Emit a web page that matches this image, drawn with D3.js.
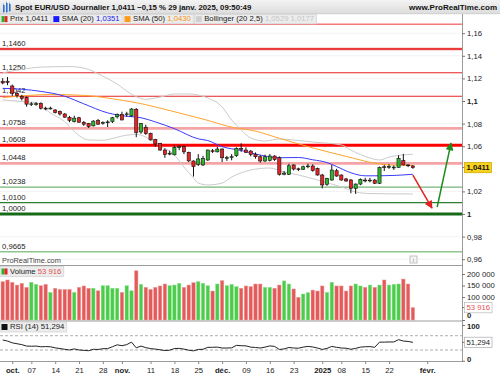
<!DOCTYPE html>
<html>
<head>
<meta charset="utf-8">
<title>Spot EUR/USD Journalier</title>
<script src="https://cdn.jsdelivr.net/npm/d3@7"></script>
<style>
  body { margin: 0; background: #fff; }
  svg { display: block; font-family: "Liberation Sans", Arial, sans-serif; }
</style>
</head>
<body>
<div id="chart"></div>
<script>
// trading days on the chart (25/12 and 01/01 are not traded)
var dates = [
    "2024-09-27", "2024-09-30",
    "2024-10-01", "2024-10-02", "2024-10-03", "2024-10-04", "2024-10-07", "2024-10-08", "2024-10-09", "2024-10-10", "2024-10-11",
    "2024-10-14", "2024-10-15", "2024-10-16", "2024-10-17", "2024-10-18", "2024-10-21", "2024-10-22", "2024-10-23", "2024-10-24", "2024-10-25",
    "2024-10-28", "2024-10-29", "2024-10-30", "2024-10-31",
    "2024-11-01", "2024-11-04", "2024-11-05", "2024-11-06", "2024-11-07", "2024-11-08", "2024-11-11", "2024-11-12", "2024-11-13", "2024-11-14", "2024-11-15",
    "2024-11-18", "2024-11-19", "2024-11-20", "2024-11-21", "2024-11-22", "2024-11-25", "2024-11-26", "2024-11-27", "2024-11-28", "2024-11-29",
    "2024-12-02", "2024-12-03", "2024-12-04", "2024-12-05", "2024-12-06", "2024-12-09", "2024-12-10", "2024-12-11", "2024-12-12", "2024-12-13",
    "2024-12-16", "2024-12-17", "2024-12-18", "2024-12-19", "2024-12-20", "2024-12-23", "2024-12-24", "2024-12-26", "2024-12-27", "2024-12-30", "2024-12-31",
    "2025-01-02", "2025-01-03", "2025-01-06", "2025-01-07", "2025-01-08", "2025-01-09", "2025-01-10", "2025-01-13", "2025-01-14", "2025-01-15",
    "2025-01-16", "2025-01-17", "2025-01-20", "2025-01-21", "2025-01-22", "2025-01-23", "2025-01-24", "2025-01-27", "2025-01-28", "2025-01-29"
];
// empty days on the right of the chart
var futureDates = ["2025-01-30", "2025-01-31", "2025-02-03", "2025-02-04", "2025-02-05", "2025-02-06", "2025-02-07", "2025-02-10", "2025-02-11", "2025-02-12"];

var opens = [1.1172, 1.1175, 1.1133, 1.1068, 1.1040, 1.1033, 1.0970, 1.0972, 1.0980, 1.0936,
    1.0934, 1.0920, 1.0908, 1.0885, 1.0855, 1.0818, 1.0852, 1.0812, 1.0802, 1.0780,
    1.0826, 1.0802, 1.0810, 1.0817, 1.0860, 1.0882, 1.0880, 1.0868, 1.0927, 1.0726,
    1.0768, 1.0714, 1.0660, 1.0625, 1.0566, 1.0530, 1.0524, 1.0592, 1.0596, 1.0546,
    1.0469, 1.0440, 1.0434, 1.0478, 1.0560, 1.0550, 1.0575, 1.0496, 1.0503, 1.0516,
    1.0580, 1.0566, 1.0557, 1.0528, 1.0507, 1.0469, 1.0475, 1.0513, 1.0498, 1.0352,
    1.0351, 1.0434, 1.0400, 1.0396, 1.0420, 1.0425, 1.0404, 1.0345, 1.0263, 1.0301,
    1.0383, 1.0345, 1.0310, 1.0301, 1.0227, 1.0265, 1.0300, 1.0294, 1.0300, 1.0272,
    1.0418, 1.0416, 1.0410, 1.0413, 1.0472, 1.0434, 1.0425];
var highs = [1.1202, 1.1212, 1.1145, 1.1083, 1.1055, 1.1040, 1.0990, 1.0990, 1.0988, 1.0950,
    1.0950, 1.0928, 1.0915, 1.0893, 1.0868, 1.0870, 1.0860, 1.0822, 1.0806, 1.0830,
    1.0840, 1.0820, 1.0830, 1.0860, 1.0890, 1.0905, 1.0905, 1.0937, 1.0937, 1.0806,
    1.0790, 1.0720, 1.0665, 1.0630, 1.0580, 1.0560, 1.0608, 1.0610, 1.0610, 1.0552,
    1.0475, 1.0530, 1.0515, 1.0570, 1.0575, 1.0595, 1.0580, 1.0515, 1.0530, 1.0590,
    1.0626, 1.0590, 1.0565, 1.0545, 1.0520, 1.0525, 1.0530, 1.0520, 1.0510, 1.0380,
    1.0445, 1.0440, 1.0410, 1.0428, 1.0445, 1.0440, 1.0410, 1.0355, 1.0320, 1.0434,
    1.0400, 1.0350, 1.0320, 1.0310, 1.0270, 1.0315, 1.0320, 1.0320, 1.0310, 1.0420,
    1.0435, 1.0440, 1.0430, 1.0520, 1.0532, 1.0440, 1.0432];
var lows = [1.1148, 1.1140, 1.1045, 1.1030, 1.1005, 1.0950, 1.0955, 1.0958, 1.0925, 1.0918,
    1.0925, 1.0890, 1.0872, 1.0852, 1.0812, 1.0810, 1.0808, 1.0780, 1.0762, 1.0775,
    1.0790, 1.0790, 1.0770, 1.0805, 1.0845, 1.0830, 1.0860, 1.0860, 1.0680, 1.0710,
    1.0700, 1.0650, 1.0595, 1.0560, 1.0497, 1.0520, 1.0520, 1.0565, 1.0530, 1.0460,
    1.0332, 1.0425, 1.0425, 1.0470, 1.0540, 1.0545, 1.0460, 1.0470, 1.0475, 1.0505,
    1.0550, 1.0540, 1.0510, 1.0490, 1.0455, 1.0460, 1.0465, 1.0470, 1.0340, 1.0343,
    1.0345, 1.0385, 1.0380, 1.0390, 1.0405, 1.0375, 1.0340, 1.0227, 1.0250, 1.0295,
    1.0330, 1.0295, 1.0285, 1.0183, 1.0178, 1.0255, 1.0280, 1.0280, 1.0265, 1.0265,
    1.0380, 1.0400, 1.0390, 1.0410, 1.0430, 1.0415, 1.0400];
var closes = [1.1160, 1.1165, 1.1068, 1.1047, 1.1022, 1.0972, 1.0975, 1.0976, 1.0936, 1.0934,
    1.0937, 1.0898, 1.0885, 1.0857, 1.0828, 1.0848, 1.0812, 1.0795, 1.0774, 1.0822,
    1.0795, 1.0810, 1.0815, 1.0852, 1.0882, 1.0832, 1.0886, 1.0929, 1.0720, 1.0800,
    1.0712, 1.0656, 1.0620, 1.0566, 1.0528, 1.0538, 1.0590, 1.0596, 1.0550, 1.0470,
    1.0419, 1.0487, 1.0493, 1.0566, 1.0556, 1.0575, 1.0498, 1.0499, 1.0507, 1.0581,
    1.0574, 1.0546, 1.0528, 1.0507, 1.0469, 1.0507, 1.0513, 1.0482, 1.0350, 1.0362,
    1.0427, 1.0398, 1.0396, 1.0418, 1.0425, 1.0384, 1.0345, 1.0257, 1.0316, 1.0389,
    1.0336, 1.0301, 1.0292, 1.0227, 1.0265, 1.0307, 1.0296, 1.0300, 1.0272, 1.0413,
    1.0414, 1.0420, 1.0415, 1.0493, 1.0434, 1.0430, 1.0411];
var volumes = [166500, 174000, 164000, 152000, 159500, 142000, 164000, 155000, 149000, 155000,
    120000, 138000, 133000, 133000, 133000, 120000, 142000, 148000, 138000, 138000,
    127000, 149000, 149000, 138000, 138000, 120000, 149000, 127000, 214000, 155000,
    142000, 133000, 142000, 148000, 156500, 149000, 152000, 159500, 142000, 152000,
    162000, 166500, 159500, 149000, 126000, 156500, 171000, 149000, 155000, 145000,
    138000, 148000, 145000, 156500, 156500, 142000, 142000, 138000, 152000, 170000,
    156500, 135000, 98500, 113000, 119000, 130000, 126000, 148000, 120000, 164000,
    148000, 148000, 126000, 148000, 156500, 148000, 142000, 152000, 142000, 152000,
    174000, 152000, 155000, 156500, 178000, 156500, 53916];
var rsi = [58, 55, 50, 47.5, 45, 41, 40.5, 41, 39, 39.5,
    39, 36, 34, 32, 30, 33, 30, 29, 28, 32,
    31.5, 33.5, 34, 39, 44.5, 42, 45, 52, 36, 41,
    36.5, 34, 32.5, 30.5, 28.5, 29.5, 34, 34.5, 32.5, 29.5,
    27.5, 31.5, 32, 37.5, 37.5, 38, 35.5, 35.5, 36, 43,
    42, 41.5, 38, 37, 35.5, 38, 41.5, 40, 31.5, 33,
    37, 35.5, 35, 38, 40, 38.5, 35.5, 31.5, 34.5, 40,
    37.5, 35.5, 35, 32, 34.5, 38, 39, 39.5, 37.5, 52,
    52, 52.5, 52.5, 59, 55, 54, 51.294];

// indicators: [day index, value]
var sma20 = [[0, 1.1112], [4, 1.1104], [8, 1.1085], [13, 1.1042], [17, 1.0975], [22, 1.0895], [26, 1.0865], [29, 1.0852],
    [32, 1.0815], [36, 1.0755], [41, 1.0665], [43, 1.0650], [46, 1.0596], [50, 1.0562], [53, 1.0531], [58, 1.0498],
    [62, 1.0500], [65, 1.0480], [68, 1.0455], [70, 1.0420], [73, 1.0365], [76, 1.0338], [79, 1.0338], [86, 1.0351]];
var sma50 = [[0, 1.1030], [4, 1.1045], [10, 1.1058], [17, 1.1050], [23, 1.1020], [28, 1.0985], [36, 1.0905], [42, 1.0840],
    [49, 1.0760], [52, 1.0743], [58, 1.0670], [65, 1.0585], [72, 1.0510], [78, 1.0450], [81, 1.0434], [86, 1.0430]];
var bbUpper = [[0, 1.1250], [4, 1.1280], [8, 1.1300], [14, 1.1305], [18, 1.1280], [20, 1.1240], [24, 1.1150], [27, 1.1060],
    [30, 1.1015], [33, 1.1035], [36, 1.1062], [39, 1.1062], [43, 1.1027], [46, 1.0947], [48, 1.0832], [50, 1.0743],
    [52, 1.0673], [55, 1.0646], [58, 1.0664], [61, 1.0655], [65, 1.0637], [71, 1.0611], [73, 1.0566], [77, 1.0496],
    [79, 1.0478], [81, 1.0504], [86, 1.0529]];
var bbLower = [[0, 1.1010], [4, 1.0995], [7, 1.0985], [10, 1.0894], [13, 1.0817], [15, 1.0730], [18, 1.0655], [21, 1.0652],
    [23, 1.0668], [25, 1.0690], [28, 1.0705], [30, 1.0681], [33, 1.0602], [36, 1.0522], [38, 1.0416], [40, 1.0319],
    [41, 1.0274], [43, 1.0257], [46, 1.0274], [48, 1.0327], [52, 1.0389], [56, 1.0407], [59, 1.0372], [62, 1.0345],
    [66, 1.0301], [71, 1.0239], [74, 1.0195], [77, 1.0181], [86, 1.0177]];

// horizontal levels drawn on the chart
var levels = [1.1680, 1.1460, 1.1250, 1.1042, 1.0758, 1.0608, 1.0448, 1.0238, 1.0100, 1.0000, 0.9665];

// drawn arrows: [day index, price] start and end
var arrowDown = [[86, 1.0345], [90, 1.0052]];
var arrowUp = [[91.1, 1.0062], [94, 1.0628]];

// axis ticks
var priceTicks = [0.96, 0.98, 1, 1.02, 1.06, 1.08, 1.1, 1.12, 1.14, 1.16];
var volumeTicks = [0, 100000, 150000, 200000];
var rsiTicks = [0, 100];
var rsiBands = [30, 70];
var xTickDates = ["2024-10-01", "2024-10-07", "2024-10-14", "2024-10-21", "2024-10-28", "2024-11-01", "2024-11-11", "2024-11-18",
    "2024-11-25", "2024-12-02", "2024-12-09", "2024-12-16", "2024-12-23", "2025-01-02", "2025-01-08", "2025-01-15", "2025-01-22", "2025-02-03"];
var xTickLabels = ["oct.", "07", "14", "21", "28", "nov.", "11", "18", "25", "déc.", "09", "16", "23", "2025", "08", "15", "22", "févr."];

var headerTitle = "Spot EUR/USD Journalier 1,0411 \u22120,15 % 29 janv. 2025, 09:50:49";
var headerSite = "www.ProRealTime.com";


// ---------------------------------------------------------------------------
var width = 500, height = 375, plotRight = 462;
var UP = "#2db52d", DOWN = "#e42424";

var fr = d3.formatLocale({decimal: ",", thousands: " ", grouping: [3], currency: ["", ""]});
var fmt4 = fr.format(".4f"), fmt3 = fr.format(".3f"), fmtTick = fr.format(".2~f"), fmtVol = fr.format(",");

var allDates = dates.concat(futureDates);

var x = d3.scaleLinear().domain([-0.57, 96.3]).range([0, plotRight]);
var yPrice = d3.scaleLinear().domain([0.96, 1.16]).range([259.2, 33.2]);
var yVol = d3.scaleLinear().domain([0, 200000]).range([320, 274]);
var yRsi = d3.scaleLinear().domain([0, 100]).range([360.7, 325]);

var candles = dates.map(function (d, i) {
    return {i: i, date: d, open: opens[i], high: highs[i], low: lows[i], close: closes[i], volume: volumes[i], rsi: rsi[i]};
});
var last = candles[candles.length - 1];

var svg = d3.select("#chart").append("svg")
    .attr("width", width)
    .attr("height", height);

var defs = svg.append("defs");
defs.append("clipPath").attr("id", "clipPrice")
    .append("rect").attr("x", 0).attr("y", 14).attr("width", plotRight).attr("height", 251);
var grad = defs.append("linearGradient").attr("id", "hdr").attr("x1", 0).attr("y1", 0).attr("x2", 0).attr("y2", 1);
grad.append("stop").attr("offset", "0%").attr("stop-color", "#f3f3f3");
grad.append("stop").attr("offset", "100%").attr("stop-color", "#dcdcdc");

function arrowMarker(id, color) {
    defs.append("marker").attr("id", id)
        .attr("viewBox", "0 0 10 10").attr("refX", 9).attr("refY", 5)
        .attr("markerWidth", 9).attr("markerHeight", 8)
        .attr("markerUnits", "userSpaceOnUse").attr("orient", "auto")
        .append("path").attr("d", "M0,0L10,5L0,10z").attr("fill", color);
}
arrowMarker("arrRed", "#e32020");
arrowMarker("arrGreen", "#1e8c1e");

svg.append("rect").attr("width", width).attr("height", height).attr("fill", "#fff");

// ---- price panel ----
var price = svg.append("g").attr("clip-path", "url(#clipPrice)");

price.selectAll("line.grid")
    .data(priceTicks)
    .enter().append("line")
    .attr("x1", 0).attr("x2", plotRight)
    .attr("y1", function (d) { return yPrice(d); })
    .attr("y2", function (d) { return yPrice(d); })
    .attr("stroke", "#f3f3f3");

// styles for each level, same order as levels
var levelStyles = [
    {color: "#f03434", w: 1},
    {color: "#e81212", w: 1.3, halo: "#f7b8b8"},
    {color: "#e82222", w: 1.1},
    {color: "#e82222", w: 1.1},
    {color: "#f4a4a4", w: 2.6},
    {color: "#ff0000", w: 3},
    {color: "#f4a4a4", w: 2.6},
    {color: "#55a155", w: 1},
    {color: "#2f7f2f", w: 1.3},
    {color: "#176a17", w: 3},
    {color: "#55a855", w: 1}
];

levels.forEach(function (lv, k) {
    var st = levelStyles[k], yy = yPrice(lv);
    if (st.halo) {
        price.append("line").attr("x1", 0).attr("x2", plotRight).attr("y1", yy).attr("y2", yy)
            .attr("stroke", st.halo).attr("stroke-width", 3.2);
    }
    price.append("line").attr("x1", 0).attr("x2", plotRight).attr("y1", yy).attr("y2", yy)
        .attr("stroke", st.color).attr("stroke-width", st.w);
    if (k > 0) {
        price.append("text")
            .attr("x", 2).attr("y", yy - 3.2)
            .attr("font-size", 7.7).attr("fill", "#222")
            .text(fmt4(lv));
    }
});

var curve = d3.line()
    .x(function (d) { return x(d[0]); })
    .y(function (d) { return yPrice(d[1]); })
    .curve(d3.curveMonotoneX);

[[bbUpper, "#cbcbcb"], [bbLower, "#cbcbcb"], [sma50, "#ffa52e"], [sma20, "#3b3bff"]].forEach(function (s) {
    price.append("path").datum(s[0])
        .attr("d", curve)
        .attr("fill", "none")
        .attr("stroke", s[1])
        .attr("stroke-width", 1);
});

var cg = price.selectAll("g.candle")
    .data(candles)
    .enter().append("g").attr("class", "candle");

cg.append("line")
    .attr("x1", function (d) { return x(d.i); })
    .attr("x2", function (d) { return x(d.i); })
    .attr("y1", function (d) { return yPrice(d.high); })
    .attr("y2", function (d) { return yPrice(d.low); })
    .attr("stroke", "#111")
    .attr("stroke-width", 1);

cg.append("rect")
    .attr("x", function (d) { return x(d.i) - 1.6; })
    .attr("width", 3.2)
    .attr("y", function (d) { return yPrice(Math.max(d.open, d.close)); })
    .attr("height", function (d) { return Math.max(0.8, Math.abs(yPrice(d.open) - yPrice(d.close))); })
    .attr("fill", function (d) { return d.close >= d.open ? UP : DOWN; })
    .attr("stroke", "#111")
    .attr("stroke-width", 0.6);

// arrows
[[arrowDown, "#e32020", "arrRed"], [arrowUp, "#1e8c1e", "arrGreen"]].forEach(function (a) {
    price.append("line")
        .attr("x1", x(a[0][0][0])).attr("y1", yPrice(a[0][0][1]))
        .attr("x2", x(a[0][1][0])).attr("y2", yPrice(a[0][1][1]))
        .attr("stroke", a[1]).attr("stroke-width", 1.5)
        .attr("marker-end", "url(#" + a[2] + ")");
});

svg.append("text")
    .attr("x", 2).attr("y", 262.5)
    .attr("font-size", 7.4).attr("fill", "#444")
    .text("ProRealTime.com");

var info = svg.append("g").attr("transform", "translate(410,256)");
info.append("rect").attr("width", 7).attr("height", 7).attr("fill", "#f6f6f6").attr("stroke", "#aaa").attr("stroke-width", 0.7);
info.append("text").attr("x", 3.5).attr("y", 6).attr("text-anchor", "middle").attr("font-size", 6).attr("fill", "#888").text("i");

// ---- volume panel ----
svg.append("g").selectAll("rect")
    .data(candles)
    .enter().append("rect")
    .attr("x", function (d) { return x(d.i) - 1.7; })
    .attr("width", 3.4)
    .attr("y", function (d) { return yVol(d.volume); })
    .attr("height", function (d) { return yVol(0) - yVol(d.volume); })
    .attr("fill", function (d) { return d.close >= d.open ? "#4ccb4c" : "#e35a5a"; })
    .attr("stroke", function (d) { return d.close >= d.open ? "#8de28d" : "#f09a9a"; })
    .attr("stroke-width", 0.5);

// ---- rsi panel ----
svg.append("g").selectAll("line")
    .data(rsiBands)
    .enter().append("line")
    .attr("x1", 0).attr("x2", plotRight)
    .attr("y1", function (d) { return yRsi(d); })
    .attr("y2", function (d) { return yRsi(d); })
    .attr("stroke", "#999")
    .attr("stroke-width", 0.8)
    .attr("stroke-dasharray", "3,2");

svg.append("path").datum(candles)
    .attr("d", d3.line()
        .x(function (d) { return x(d.i); })
        .y(function (d) { return yRsi(d.rsi); }))
    .attr("fill", "none")
    .attr("stroke", "#222")
    .attr("stroke-width", 1);

// ---- frames ----
var frame = svg.append("g").attr("stroke", "#9c9c9c").attr("stroke-width", 1);
frame.append("line").attr("x1", 0).attr("x2", plotRight).attr("y1", 265.5).attr("y2", 265.5);
frame.append("line").attr("x1", 0).attr("x2", plotRight).attr("y1", 321).attr("y2", 321);
frame.append("line").attr("x1", 0).attr("x2", plotRight).attr("y1", 361.5).attr("y2", 361.5);
frame.append("line").attr("x1", plotRight + 0.5).attr("x2", plotRight + 0.5).attr("y1", 14).attr("y2", 362);

// ---- right axes ----
function styleAxis(g, boldTest) {
    g.select(".domain").remove();
    g.selectAll(".tick line").attr("stroke", "#777");
    g.selectAll(".tick text")
        .attr("font-size", 7.7)
        .attr("font-family", "Liberation Sans, Arial, sans-serif")
        .attr("fill", "#222")
        .attr("font-weight", function (d) { return boldTest(d) ? "bold" : null; });
}

var axPrice = svg.append("g")
    .attr("transform", "translate(" + plotRight + ",0)")
    .call(d3.axisRight(yPrice).tickValues(priceTicks).tickSize(3).tickPadding(2).tickFormat(fmtTick));
styleAxis(axPrice, function (d) { return Math.abs(d * 10 - Math.round(d * 10)) < 1e-9; });

var axVol = svg.append("g")
    .attr("transform", "translate(" + plotRight + ",0)")
    .call(d3.axisRight(yVol).tickValues(volumeTicks).tickSize(3).tickPadding(2).tickFormat(fmtVol));
styleAxis(axVol, function (d) { return d === 0; });
axVol.selectAll(".tick text").filter(function (d) { return d === 0; }).attr("dy", "-0.3em");

var axRsi = svg.append("g")
    .attr("transform", "translate(" + plotRight + ",0)")
    .call(d3.axisRight(yRsi).tickValues(rsiTicks).tickSize(3).tickPadding(2).tickFormat(d3.format("d")));
styleAxis(axRsi, function () { return true; });
axRsi.selectAll(".tick text").filter(function (d) { return d === 0; }).attr("dy", "0.05em");
axRsi.selectAll(".tick text").filter(function (d) { return d === 100; }).attr("dy", "0.5em");

function valueBox(yy, label, fill, stroke, color, bold) {
    var g = svg.append("g");
    g.append("line").attr("x1", plotRight).attr("x2", plotRight + 3).attr("y1", yy).attr("y2", yy).attr("stroke", "#777");
    var t = g.append("text")
        .attr("x", plotRight + 4.5).attr("y", yy).attr("dy", "0.34em")
        .attr("font-size", 7.7).attr("fill", color)
        .attr("font-weight", bold ? "bold" : null)
        .text(label);
    var w = t.node().getComputedTextLength();
    g.insert("rect", "text")
        .attr("x", plotRight + 2.5).attr("y", yy - 5.2)
        .attr("width", w + 4).attr("height", 10.4)
        .attr("fill", fill).attr("stroke", stroke).attr("stroke-width", 0.7);
}
valueBox(yPrice(last.close), fmt4(last.close), "#f7d21e", "#c9a600", "#111", true);
valueBox(yVol(last.volume), fmtVol(last.volume), "#fff", "#bbb", "#e25050", false);
valueBox(yRsi(last.rsi), fmt3(last.rsi), "#fff", "#aaa", "#222", false);

// ---- x axis ----
var xTickIdx = xTickDates.map(function (d) { return allDates.indexOf(d); });
var axX = svg.append("g")
    .attr("transform", "translate(0,361.5)")
    .call(d3.axisBottom(x).tickValues(xTickIdx).tickSize(2.5).tickPadding(3.5)
        .tickFormat(function (d, k) { return xTickLabels[k]; }));
axX.select(".domain").remove();
axX.selectAll(".tick line").attr("stroke", "#888");
axX.selectAll(".tick text")
    .attr("font-size", 7.7)
    .attr("font-family", "Liberation Sans, Arial, sans-serif")
    .attr("fill", "#222")
    .attr("font-weight", function (d, k) { return /^\d\d$/.test(xTickLabels[k]) ? null : "bold"; });

// ---- header ----
svg.append("rect").attr("x", 0).attr("y", 0).attr("width", width).attr("height", 14).attr("fill", "url(#hdr)");
svg.append("line").attr("x1", 0).attr("x2", width).attr("y1", 13.8).attr("y2", 13.8).attr("stroke", "#c4c4c4").attr("stroke-width", 0.6);

var icon = svg.append("g");
[[3, 5, 7], [6, 3, 9], [9, 4, 7]].forEach(function (b) {
    icon.append("line").attr("x1", b[0] + 0.5).attr("x2", b[0] + 0.5).attr("y1", b[1] - 1.5).attr("y2", b[1] + b[2] + 1)
        .attr("stroke", "#6a8fc8").attr("stroke-width", 0.7);
    icon.append("rect").attr("x", b[0]).attr("y", b[1]).attr("width", 1.6).attr("height", b[2]).attr("fill", "#2f6fd0");
});

svg.append("text")
    .attr("x", 15).attr("y", 10.3)
    .attr("font-size", 7.8).attr("font-weight", "bold").attr("fill", "#111")
    .text(headerTitle);
svg.append("text")
    .attr("x", 497).attr("y", 10.3)
    .attr("text-anchor", "end")
    .attr("font-size", 8).attr("font-weight", "bold").attr("fill", "#111")
    .text(headerSite);

// ---- legends ----
function splitIcon(g, x0, y0) {
    g.append("rect").attr("x", x0).attr("y", y0).attr("width", 3).attr("height", 6).attr("fill", "#28b428");
    g.append("rect").attr("x", x0 + 3).attr("y", y0).attr("width", 3).attr("height", 6).attr("fill", "#e42424");
}
function colorIcon(color) {
    return function (g, x0, y0) {
        g.append("rect").attr("x", x0).attr("y", y0).attr("width", 6).attr("height", 6).attr("fill", color);
    };
}
function legendBox(x0, y0, h, drawIcon, parts) {
    var g = svg.append("g");
    var rect = g.append("rect").attr("x", x0).attr("y", y0).attr("height", h)
        .attr("fill", "#ececec").attr("stroke", "#d0d0d0").attr("stroke-width", 0.7);
    drawIcon(g, x0 + 1.5, y0 + (h - 6) / 2);
    var t = g.append("text").attr("x", x0 + 10).attr("y", y0 + h - 2.6).attr("font-size", 7.7);
    parts.forEach(function (p) { t.append("tspan").attr("fill", p[1]).text(p[0]); });
    var w = t.node().getComputedTextLength() + 12.5;
    rect.attr("width", w);
    return x0 + w + 1;
}

var lx = 0;
lx = legendBox(lx, 14.3, 9.6, splitIcon, [["Prix ", "#222"], [fmt4(last.close), "#222"]]);
lx = legendBox(lx, 14.3, 9.6, colorIcon("#1a1aff"), [["SMA (20) ", "#222"], [fmt4(sma20[sma20.length - 1][1]), "#2222e6"]]);
lx = legendBox(lx, 14.3, 9.6, colorIcon("#ff9a1a"), [["SMA (50) ", "#222"], [fmt4(sma50[sma50.length - 1][1]), "#f59414"]]);
lx = legendBox(lx, 14.3, 9.6, colorIcon("#cfcfcf"), [["Bollinger (20 2,5) ", "#222"],
    [fmt4(bbUpper[bbUpper.length - 1][1]) + " " + fmt4(bbLower[bbLower.length - 1][1]), "#c6c6c6"]]);

legendBox(0, 266.5, 10, splitIcon, [["Volume ", "#222"], [fmtVol(last.volume), "#e25050"]]);
legendBox(0, 322, 10, colorIcon("#111"), [["RSI (14) ", "#222"], [fmt3(last.rsi), "#222"]]);
</script>
</body>
</html>
